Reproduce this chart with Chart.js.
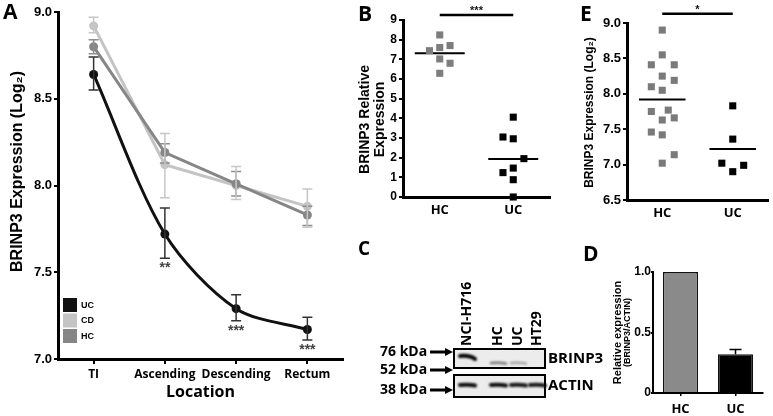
<!DOCTYPE html>
<html lang="en">
<head>
<meta charset="UTF-8">
<title>BRINP3 expression</title>
<script src="https://cdn.jsdelivr.net/npm/chart.js"></script>
<style>
  body, html { margin: 0; padding: 0; background: #fff; }
  #page { position: relative; width: 773px; height: 416px; overflow: hidden; }
  canvas { position: absolute; }
  .letter { position: absolute; font: bold 21px 'Open Sans', sans-serif; line-height: 1; color: #000; }
</style>
</head>
<body>
<div id="page">
  <canvas id="chartA" width="350" height="416" style="left:0;top:0"></canvas>
  <canvas id="chartB" width="205" height="225" style="left:350px;top:0"></canvas>
  <canvas id="chartE" width="213" height="225" style="left:560px;top:0"></canvas>
  <canvas id="blot" width="250" height="186" style="left:355px;top:230px"></canvas>
  <canvas id="chartD" width="173" height="161" style="left:600px;top:255px"></canvas>
  <div class="letter" style="left:3px;top:1px">A</div>
  <div class="letter" style="left:358px;top:3px">B</div>
  <div class="letter" style="left:358px;top:239px;font-size:19px">C</div>
  <div class="letter" style="left:583px;top:243px">D</div>
  <div class="letter" style="left:580px;top:3px">E</div>
</div>

<script>
// ---- panel A: expression by location ----
const locations = ['TI', 'Ascending', 'Descending', 'Rectum'];
const ucMean = [8.64, 7.72, 7.29, 7.17];
const ucLow  = [8.55, 7.58, 7.22, 7.11];
const ucHigh = [8.74, 7.87, 7.37, 7.24];
const hcMean = [8.80, 8.19, 8.01, 7.83];
const hcLow  = [8.76, 8.13, 7.94, 7.77];
const hcHigh = [8.84, 8.24, 8.08, 7.88];
const cdMean = [8.92, 8.12, 8.00, 7.88];
const cdLow  = [8.88, 7.93, 7.92, 7.76];
const cdHigh = [8.97, 8.30, 8.11, 7.98];
const ucStars = ['', '**', '***', '***'];

// ---- panel B: relative expression ----
const groups = ['HC', 'UC'];
const hcB = [8.24, 7.44, 7.60, 7.70, 7.02, 6.80, 6.29];
const hcBJitter = [0, -0.14, 0, 0.14, 0, 0.14, 0];
const ucB = [4.06, 3.05, 2.96, 1.95, 1.47, 1.24, 0.88, 0.0];
const ucBJitter = [0, -0.14, 0, 0.145, 0, -0.14, 0, 0];
const medianB = [7.31, 1.93];

// ---- panel E: log2 expression ----
const hcE = [8.90, 8.55, 8.41, 8.41, 8.25, 8.19, 8.10, 8.05, 7.75, 7.77, 7.63, 7.66, 7.46, 7.42, 7.14, 7.02];
const hcEJitter = [0, 0, -0.155, 0.17, 0, 0.17, -0.155, 0, -0.155, 0.085, 0, 0.17, -0.155, 0, 0.17, 0];
const ucE = [7.83, 7.36, 7.02, 6.99, 6.90];
const ucEJitter = [0, 0, -0.155, 0.155, 0];
const medianE = [7.92, 7.22];

// ---- panel D: densitometry ----
const ratioD = [1.0, 0.32];
const ratioDErr = [null, 0.36];

// ---- panel C: blot ----
const laneNames = ['NCI-H716', 'HC', 'UC', 'HT29'];
const brinp3Band = [1.0, 0.5, 0.3, 0];
const actinBand = [0.95, 0.95, 0.9, 0.9];
const ladder = ['76 kDa', '52 kDa', '38 kDa'];

Chart.defaults.font.family = "'Liberation Sans', Arial, sans-serif";
Chart.defaults.font.weight = 'bold';
Chart.defaults.font.size = 12;
Chart.defaults.color = '#000';
Chart.defaults.animation = false;
Chart.defaults.plugins.legend.display = false;
Chart.defaults.plugins.tooltip.enabled = false;

// vertical error bars (+ optional stars under the lower end)
const errorBars = {
  id: 'errorBars',
  afterDatasetsDraw(chart) {
    const ctx = chart.ctx, y = chart.scales.y;
    chart.data.datasets.forEach((ds, i) => {
      if (!ds.errHigh) return;
      const meta = chart.getDatasetMeta(i);
      ctx.save();
      ctx.strokeStyle = ds.errColor || '#000';
      ctx.lineWidth = 1.5;
      meta.data.forEach((el, j) => {
        if (ds.errHigh[j] == null) return;
        const lo = y.getPixelForValue(ds.errLow ? ds.errLow[j] : ds.data[j]);
        const hi = y.getPixelForValue(ds.errHigh[j]);
        const w = ds.capWidth || 5;
        ctx.beginPath();
        ctx.moveTo(el.x, lo); ctx.lineTo(el.x, hi);
        ctx.moveTo(el.x - w, hi); ctx.lineTo(el.x + w, hi);
        if (ds.errLow) { ctx.moveTo(el.x - w, lo); ctx.lineTo(el.x + w, lo); }
        ctx.stroke();
        if (ds.stars && ds.stars[j]) {
          ctx.fillStyle = '#444';
          ctx.font = "bold 14px 'Liberation Sans'";
          ctx.textAlign = 'center';
          ctx.textBaseline = 'middle';
          ctx.fillText(ds.stars[j], el.x, lo + 10);
        }
      });
      ctx.restore();
    });
  }
};

// small square legend inside the plot (bottom left)
const boxLegend = {
  id: 'boxLegend',
  afterDraw(chart, args, opts) {
    if (!opts.order) return;
    const {ctx, chartArea} = chart;
    ctx.save();
    opts.order.forEach((name, k) => {
      const ds = chart.data.datasets.find(d => d.label === name);
      const top = chartArea.bottom - 61 + k * 15.5;
      ctx.fillStyle = ds.borderColor;
      ctx.fillRect(chartArea.left + 5, top, 14, 14);
      ctx.fillStyle = '#000';
      ctx.font = "bold 9px 'Liberation Sans'";
      ctx.textBaseline = 'middle';
      ctx.fillText(name, chartArea.left + 23, top + 7.5);
    });
    ctx.restore();
  }
};

// rotated y-axis title
const sideTitle = {
  id: 'sideTitle',
  afterDraw(chart, args, opts) {
    if (!opts.lines) return;
    const {ctx, chartArea} = chart;
    ctx.save();
    ctx.fillStyle = '#000';
    ctx.textAlign = 'center';
    ctx.textBaseline = 'middle';
    ctx.translate(opts.x, (chartArea.top + chartArea.bottom) / 2 + (opts.shift || 0));
    ctx.rotate(-Math.PI / 2);
    opts.lines.forEach((t, k) => {
      ctx.font = opts.fonts[k];
      ctx.fillText(t, 0, k * opts.lineGap);
    });
    ctx.restore();
  }
};

// median lines + significance bar for the dot plots
const dotPlot = {
  id: 'dotPlot',
  beforeDatasetsDraw(chart, args, opts) {
    const {ctx} = chart, xs = chart.scales.x, ys = chart.scales.y;
    ctx.save();
    ctx.strokeStyle = '#000';
    ctx.lineWidth = 2;
    opts.medians.forEach((m, k) => {
      const y = ys.getPixelForValue(m);
      ctx.beginPath();
      ctx.moveTo(xs.getPixelForValue(k + 1 - opts.half), y);
      ctx.lineTo(xs.getPixelForValue(k + 1 + opts.half), y);
      ctx.stroke();
    });
    const sy = ys.getPixelForValue(opts.sigLevel);
    ctx.lineWidth = 2.5;
    ctx.beginPath();
    ctx.moveTo(xs.getPixelForValue(1), sy);
    ctx.lineTo(xs.getPixelForValue(2), sy);
    ctx.stroke();
    ctx.fillStyle = '#111';
    ctx.font = "bold 11px 'Liberation Sans'";
    ctx.textAlign = 'center';
    ctx.textBaseline = 'middle';
    ctx.fillText(opts.sigText, xs.getPixelForValue(1.5), sy - 4);
    ctx.restore();
  }
};

function yAxis(min, max, step, width, fmt, size) {
  return {
    min: min, max: max,
    ticks: { stepSize: step, callback: fmt, font: { size: size }, padding: 2 },
    grid: { display: true, drawOnChartArea: false, drawTicks: true, tickLength: 4, color: '#000', lineWidth: 2 },
    border: { display: true, color: '#000', width: 3 },
    afterFit: s => { s.width = width; }
  };
}

function groupAxis(height) {
  return {
    type: 'linear', min: 0.5, max: 2.5,
    afterBuildTicks: s => { s.ticks = groups.map((g, k) => ({ value: k + 1 })); },
    ticks: { callback: v => groups[v - 1], autoSkip: false, font: { family: 'Open Sans', size: 13 }, padding: 5 },
    grid: { display: false, drawTicks: false },
    border: { display: true, color: '#000', width: 3 },
    afterFit: s => { s.height = height; }
  };
}

// A
new Chart(document.getElementById('chartA'), {
  type: 'line',
  data: {
    labels: locations,
    datasets: [
      { label: 'UC', data: ucMean, errLow: ucLow, errHigh: ucHigh, stars: ucStars,
        borderColor: '#111', backgroundColor: '#111', errColor: '#333', tension: 0.3 },
      { label: 'HC', data: hcMean, errLow: hcLow, errHigh: hcHigh,
        borderColor: '#868686', backgroundColor: '#868686', errColor: '#8e8e8e' },
      { label: 'CD', data: cdMean, errLow: cdLow, errHigh: cdHigh,
        borderColor: '#c4c4c4', backgroundColor: '#c4c4c4', errColor: '#c6c6c6' }
    ]
  },
  options: {
    responsive: false,
    layout: { padding: { top: 12, right: 7, bottom: 10, left: 0 } },
    elements: { line: { borderWidth: 3 }, point: { radius: 4.5, borderWidth: 0 } },
    scales: {
      x: {
        offset: true,
        ticks: { autoSkip: false, maxRotation: 0, font: { family: 'Open Sans', size: 12 }, padding: 3 },
        grid: { display: true, drawOnChartArea: false, drawTicks: true, tickLength: 5, color: '#000', lineWidth: 2 },
        border: { display: true, color: '#000', width: 3 },
        title: { display: true, text: 'Location', font: { family: 'Open Sans', size: 16 }, padding: { top: 0, bottom: 4 } },
        afterFit: s => { s.height = 47; }
      },
      y: yAxis(7, 9, 0.5, 58, v => v.toFixed(1), 13)
    },
    plugins: {
      boxLegend: { order: ['UC', 'CD', 'HC'] },
      sideTitle: { lines: ['BRINP3 Expression (Log\u2082)'], fonts: ["bold 16px 'Liberation Sans'"], x: 18, shift: -14, lineGap: 0 }
    }
  },
  plugins: [errorBars, boxLegend, sideTitle]
});

// B
new Chart(document.getElementById('chartB'), {
  type: 'scatter',
  data: {
    datasets: [
      { data: hcB.map((v, k) => ({ x: 1 + hcBJitter[k], y: v })), backgroundColor: '#7d7d7d', clip: false },
      { data: ucB.map((v, k) => ({ x: 2 + ucBJitter[k], y: v })), backgroundColor: '#000', clip: false }
    ]
  },
  options: {
    responsive: false,
    layout: { padding: { top: 20, right: 5, bottom: 10, left: 0 } },
    elements: { point: { pointStyle: 'rect', radius: 5, borderWidth: 0 } },
    scales: { x: groupAxis(18), y: yAxis(0, 9, 1, 53, v => v, 12) },
    plugins: {
      dotPlot: { medians: medianB, half: 0.34, sigLevel: 9.25, sigText: '***' },
      sideTitle: { lines: ['BRINP3 Relative', 'Expression'], fonts: ["bold 14px 'Liberation Sans'", "bold 14px 'Liberation Sans'"], x: 15, shift: 11, lineGap: 15 }
    }
  },
  plugins: [dotPlot, sideTitle]
});

// E
new Chart(document.getElementById('chartE'), {
  type: 'scatter',
  data: {
    datasets: [
      { data: hcE.map((v, k) => ({ x: 1 + hcEJitter[k], y: v })), backgroundColor: '#7a7a7a', clip: false },
      { data: ucE.map((v, k) => ({ x: 2 + ucEJitter[k], y: v })), backgroundColor: '#000', clip: false }
    ]
  },
  options: {
    responsive: false,
    layout: { padding: { top: 23, right: 3, bottom: 5, left: 0 } },
    elements: { point: { pointStyle: 'rect', radius: 5, borderWidth: 0 } },
    scales: { x: groupAxis(20), y: yAxis(6.5, 9, 0.5, 67, v => v.toFixed(1), 13) },
    plugins: {
      dotPlot: { medians: medianE, half: 0.33, sigLevel: 9.13, sigText: '*' },
      sideTitle: { lines: ['BRINP3 Expression (Log\u2082)'], fonts: ["bold 12px 'Liberation Sans'"], x: 30, shift: 1, lineGap: 0 }
    }
  },
  plugins: [dotPlot, sideTitle]
});

// D
const yD = yAxis(0, 1, 0.5, 53, v => v === 0 ? '0' : v.toFixed(1), 12);
yD.ticks.padding = 0;
yD.grid.tickLength = 2;
yD.border = { display: true, color: '#000', width: 2 };
new Chart(document.getElementById('chartD'), {
  type: 'bar',
  data: {
    labels: groups,
    datasets: [{
      data: ratioD, errHigh: ratioDErr, errColor: '#000', capWidth: 6,
      backgroundColor: ['#8a8a8a', '#000'], borderColor: '#111', borderWidth: 1.5,
      barPercentage: 0.64, categoryPercentage: 1
    }]
  },
  options: {
    responsive: false,
    layout: { padding: { top: 17, right: 10, bottom: 2, left: 0 } },
    scales: {
      x: {
        ticks: { font: { family: 'Open Sans', size: 13 }, padding: 5 },
        grid: { display: true, offset: false, drawOnChartArea: false, drawTicks: true, tickLength: 3, color: '#000', lineWidth: 1.5 },
        border: { display: true, color: '#000', width: 2 },
        afterFit: s => { s.height = 21; }
      },
      y: yD
    },
    plugins: {
      sideTitle: { lines: ['Relative expression', '(BRINP3/ACTIN)'], fonts: ["bold 11px 'Liberation Sans'", "bold 9px 'Liberation Sans'"], x: 18, shift: 0, lineGap: 10 }
    }
  },
  plugins: [errorBars, sideTitle]
});

// C: western blot sketch
function drawBlot() {
  const ctx = document.getElementById('blot').getContext('2d');
  const laneX = [467, 498, 518, 537];
  const ladderY = [352, 370, 390];
  ctx.save();
  ctx.translate(-355, -230);
  ctx.fillStyle = '#000';
  ctx.textBaseline = 'middle';

  ctx.font = "bold 14px 'Open Sans'";
  laneNames.forEach((name, k) => {
    ctx.save();
    ctx.translate(laneX[k], 346);
    ctx.rotate(-Math.PI / 2);
    ctx.textAlign = 'left';
    ctx.fillText(name, 0, 0);
    ctx.restore();
  });

  ladder.forEach((txt, k) => {
    const y = ladderY[k];
    ctx.textAlign = 'left';
    ctx.fillText(txt, 380, y);
    ctx.strokeStyle = '#000';
    ctx.lineWidth = 3;
    ctx.beginPath(); ctx.moveTo(430, y); ctx.lineTo(446, y); ctx.stroke();
    ctx.beginPath(); ctx.moveTo(453, y); ctx.lineTo(445, y - 4); ctx.lineTo(445, y + 4); ctx.closePath(); ctx.fill();
  });

  const boxes = [{ top: 349, h: 19, bands: brinp3Band, label: 'BRINP3' }, { top: 375, h: 22, bands: actinBand, label: 'ACTIN' }];
  boxes.forEach((b, r) => {
    ctx.fillStyle = '#ececec';
    ctx.fillRect(454, b.top, 91, b.h);
    ctx.save();
    ctx.filter = 'blur(0.8px)';
    ctx.lineCap = 'round';
    b.bands.forEach((v, k) => {
      if (!v) return;
      const cy = r === 0 ? (k === 0 ? b.top + 7 : b.top + 14) : b.top + 10;
      ctx.strokeStyle = 'rgba(0,0,0,' + v + ')';
      ctx.lineWidth = r === 0 && k > 0 ? 2.5 : 4;
      ctx.beginPath();
      ctx.moveTo(laneX[k] - 7, cy);
      ctx.quadraticCurveTo(laneX[k] + 3, cy - (r === 0 && k === 0 ? 1 : 0.5), laneX[k] + 8, cy + (r === 0 && k === 0 ? 3 : 0.5));
      ctx.stroke();
    });
    ctx.restore();
    ctx.strokeStyle = '#000';
    ctx.lineWidth = 2;
    ctx.strokeRect(454, b.top, 91, b.h);
    ctx.fillStyle = '#000';
    ctx.font = "bold 15px 'Open Sans'";
    ctx.textAlign = 'left';
    ctx.fillText(b.label, 548, b.top + b.h / 2);
  });
  ctx.restore();
}
drawBlot();
</script>
</body>
</html>
